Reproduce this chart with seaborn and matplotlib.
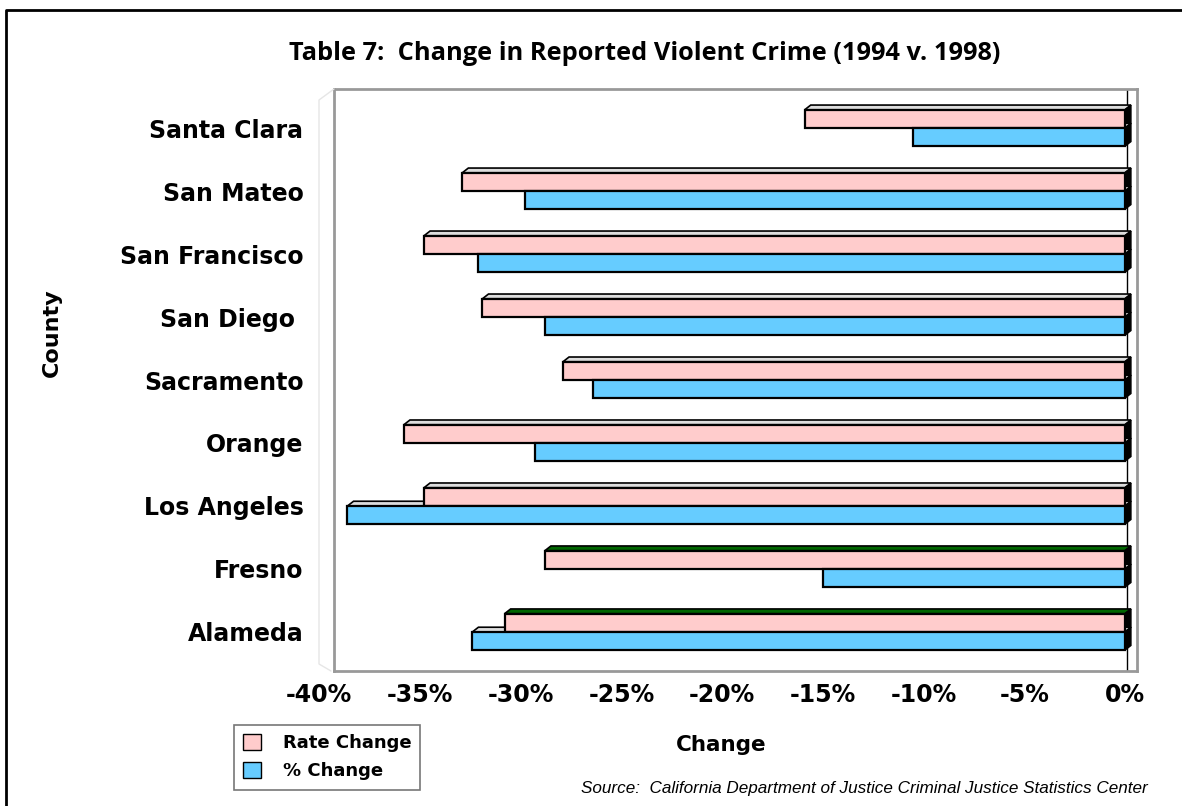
import seaborn as sns
import matplotlib.pyplot as plt
import pandas as pd
from matplotlib.patches import Polygon, Patch
from matplotlib.lines import Line2D
from matplotlib import transforms

sns.set_theme(style="white")
plt.rcParams['font.family'] = ['DejaVu Sans']
plt.rcParams['text.color'] = 'black'
plt.rcParams['xtick.color'] = 'black'
plt.rcParams['ytick.color'] = 'black'
plt.rcParams['axes.labelcolor'] = 'black'

counties = ['Santa Clara', 'San Mateo', 'San Francisco', 'San Diego ', 'Sacramento',
            'Orange', 'Los Angeles', 'Fresno', 'Alameda']
rate_change = [-15.9, -32.9, -34.8, -31.9, -27.9, -35.8, -34.8, -28.8, -30.8]
pct_change = [-10.5, -29.8, -32.1, -28.8, -26.4, -29.3, -38.6, -15.0, -32.4]
series = ['Rate Change', '% Change']
x_ticks = [-40, -35, -30, -25, -20, -15, -10, -5, 0]

df = pd.DataFrame({
    'county': counties * 2,
    'series': [series[0]] * len(counties) + [series[1]] * len(counties),
    'value': rate_change + pct_change,
})

pink, blue = '#FFCCCC', '#66CCFF'
green_tops = {'Fresno', 'Alameda'}

W, H = 1182, 806
fig = plt.figure(figsize=(W / 100, H / 100), dpi=100)
ax = fig.add_axes([334 / W, 1 - 671 / H, (1137 - 334) / W, (671 - 89) / H])

sns.barplot(data=df, x='value', y='county', hue='series', hue_order=series,
            order=counties, palette=[pink, blue], orient='h', width=0.58,
            saturation=1, edgecolor='black', linewidth=1.6, legend=False,
            ax=ax, zorder=3)

ax.set_xlim(-39.27, 0.6)
ax.set_ylim(8.62, -0.62)

# fake 3d depth: top face + side face for every bar
dx, dy = 0.3, 0.075
bars = list(ax.patches)
for i, p in enumerate(bars):
    bb = p.get_bbox()
    x0, x1 = bb.xmin, bb.xmax
    ytop, ybot = bb.ymin, bb.ymax
    cty = counties[i % len(counties)]
    is_rate = i < len(counties)
    top_col = '#006600' if (is_rate and cty in green_tops) else '#DDDDDD'
    ax.add_patch(Polygon([(x0, ytop), (x0 + dx, ytop - dy), (x1 + dx, ytop - dy), (x1, ytop)],
                         closed=True, facecolor=top_col, edgecolor='black', lw=1.2, zorder=2))
    ax.add_patch(Polygon([(x1, ytop), (x1 + dx, ytop - dy), (x1 + dx, ybot - dy), (x1, ybot)],
                         closed=True, facecolor='black', edgecolor='black', lw=1, zorder=2))

ax.axvline(0.1, color='black', lw=1, zorder=1)

for s in ax.spines.values():
    s.set_color('#999999')
    s.set_linewidth(2)

ax.set_xticks([])
ax.tick_params(axis='y', length=0, pad=22, labelsize=17)
for t in ax.get_yticklabels():
    t.set_fontweight('bold')
ax.set_xlabel('')
ax.set_ylabel('')

trans = transforms.blended_transform_factory(ax.transData, ax.transAxes)
for v in x_ticks:
    ax.text(v, -0.041, f'{v}%', transform=trans, ha='center', va='center',
            fontsize=17, fontweight='bold', clip_on=False)

# faint left wall of the 3d box
wall = [(334, 89), (319, 100), (319, 664), (331, 671)]
fig.add_artist(Line2D([p[0] / W for p in wall], [1 - p[1] / H for p in wall],
                      color='#E6E6E6', lw=1))

# outer border (top and left)
fig.add_artist(Line2D([6 / W, 6 / W, 1.0], [0.0, 1 - 10 / H, 1 - 10 / H], color='black', lw=2))

fig.text(645 / W, 1 - 53 / H, 'Table 7:  Change in Reported Violent Crime (1994 v. 1998)',
         ha='center', va='center', fontsize=18.3, fontweight='bold', family='Open Sans')
fig.text(52 / W, 1 - 333 / H, 'County', rotation=90, ha='center', va='center',
         fontsize=16, fontweight='bold')
fig.text(721 / W, 1 - 745 / H, 'Change', ha='center', va='center',
         fontsize=15.5, fontweight='bold')
fig.text(1148 / W, 1 - 789 / H,
         'Source:  California Department of Justice Criminal Justice Statistics Center',
         ha='right', va='center', fontsize=12.3, style='italic', family='Liberation Sans')

handles = [Patch(facecolor=pink, edgecolor='black'), Patch(facecolor=blue, edgecolor='black')]
leg = fig.legend(handles, series, loc='upper left', bbox_to_anchor=(234 / W, 1 - 725 / H),
                 frameon=True, fancybox=False, borderaxespad=0, handlelength=1.0,
                 handleheight=1.0, handletextpad=1.2, labelspacing=0.55,
                 prop={'weight': 'bold', 'size': 13}, borderpad=0.5)
leg.get_frame().set_edgecolor('#555555')
leg.get_frame().set_linewidth(1.2)

fig.savefig('out.png', dpi=100)
